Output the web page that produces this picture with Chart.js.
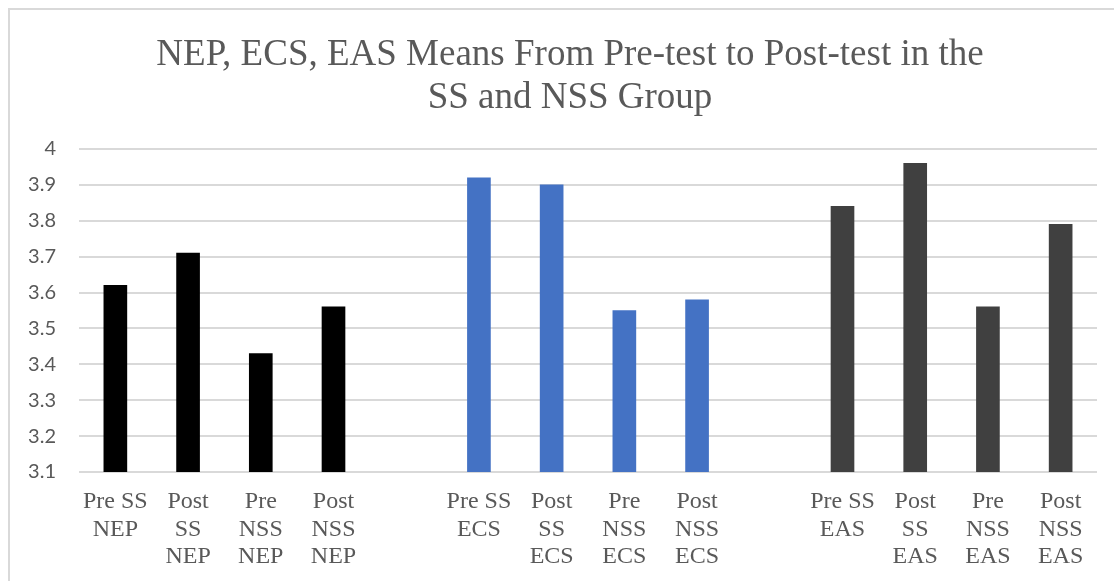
<!DOCTYPE html>
<html>
<head>
<meta charset="utf-8">
<script src="https://cdn.jsdelivr.net/npm/chart.js@4.4.1/dist/chart.umd.min.js"></script>
<style>
  html, body { margin: 0; padding: 0; background: #ffffff; }
  #wrap { width: 1114px; height: 581px; position: relative; }
</style>
</head>
<body>
<div id="wrap"><canvas id="meansChart" width="1114" height="581"></canvas></div>
<script>
// --- DATOS ---
const titleLines = ['NEP, ECS, EAS Means From Pre-test to Post-test in the', 'SS and NSS Group'];
const categories = [
    ['Pre SS', 'NEP'], ['Post', 'SS', 'NEP'], ['Pre', 'NSS', 'NEP'], ['Post', 'NSS', 'NEP'],
    '',
    ['Pre SS', 'ECS'], ['Post', 'SS', 'ECS'], ['Pre', 'NSS', 'ECS'], ['Post', 'NSS', 'ECS'],
    '',
    ['Pre SS', 'EAS'], ['Post', 'SS', 'EAS'], ['Pre', 'NSS', 'EAS'], ['Post', 'NSS', 'EAS']
];
const meanValues = [3.62, 3.71, 3.43, 3.56, null, 3.92, 3.90, 3.55, 3.58, null, 3.84, 3.96, 3.56, 3.79];
const barColors = [
    '#000000', '#000000', '#000000', '#000000', '#ffffff',
    '#4472c4', '#4472c4', '#4472c4', '#4472c4', '#ffffff',
    '#404040', '#404040', '#404040', '#404040'
];
const yMin = 3.1;
const yMax = 4;
const yStep = 0.1;

const textGrey = '#595959';
const gridGrey = '#d9d9d9';

// marco gris (arriba e izquierda) y titulo serif en dos lineas
const framePlugin = {
    id: 'frame',
    beforeDraw(chart) {
        const ctx = chart.ctx;
        ctx.save();
        ctx.strokeStyle = gridGrey;
        ctx.lineWidth = 2;
        ctx.beginPath();
        ctx.moveTo(9, chart.height);
        ctx.lineTo(9, 9);
        ctx.lineTo(chart.width, 9);
        ctx.stroke();
        ctx.restore();
    },
    afterDraw(chart) {
        const ctx = chart.ctx;
        const cx = 570;
        const baselines = [65, 108];
        ctx.save();
        ctx.fillStyle = textGrey;
        ctx.font = '37px "Liberation Serif", "Times New Roman", serif';
        ctx.textAlign = 'center';
        ctx.textBaseline = 'alphabetic';
        titleLines.forEach((line, i) => ctx.fillText(line, cx, baselines[i]));
        ctx.restore();
    }
};

const ctx = document.getElementById('meansChart').getContext('2d');
new Chart(ctx, {
    type: 'bar',
    data: {
        labels: categories,
        datasets: [{
            data: meanValues,
            backgroundColor: barColors,
            borderWidth: 0,
            barThickness: 23
        }]
    },
    options: {
        responsive: false,
        animation: false,
        layout: { padding: { top: 149, right: 17, bottom: 0, left: 10 } },
        plugins: {
            legend: { display: false },
            title: { display: false },
            tooltip: { enabled: false }
        },
        scales: {
            x: {
                grid: { display: false },
                border: { display: false },
                ticks: {
                    color: textGrey,
                    font: { family: '"Liberation Serif", "Times New Roman", serif', size: 24, lineHeight: 1.15 },
                    maxRotation: 0,
                    minRotation: 0,
                    autoSkip: false,
                    padding: 8
                },
                afterFit(scale) { scale.height = 109; }
            },
            y: {
                min: yMin,
                max: yMax,
                grid: { color: gridGrey, lineWidth: 2, drawTicks: false },
                border: { display: false },
                ticks: {
                    stepSize: yStep,
                    color: textGrey,
                    font: { family: 'Lato, "Open Sans", sans-serif', size: 20 },
                    padding: 23,
                    callback: (value) => String(parseFloat(value.toFixed(1)))
                },
                afterFit(scale) { scale.width = 69; }
            }
        }
    },
    plugins: [framePlugin]
});
</script>
</body>
</html>
